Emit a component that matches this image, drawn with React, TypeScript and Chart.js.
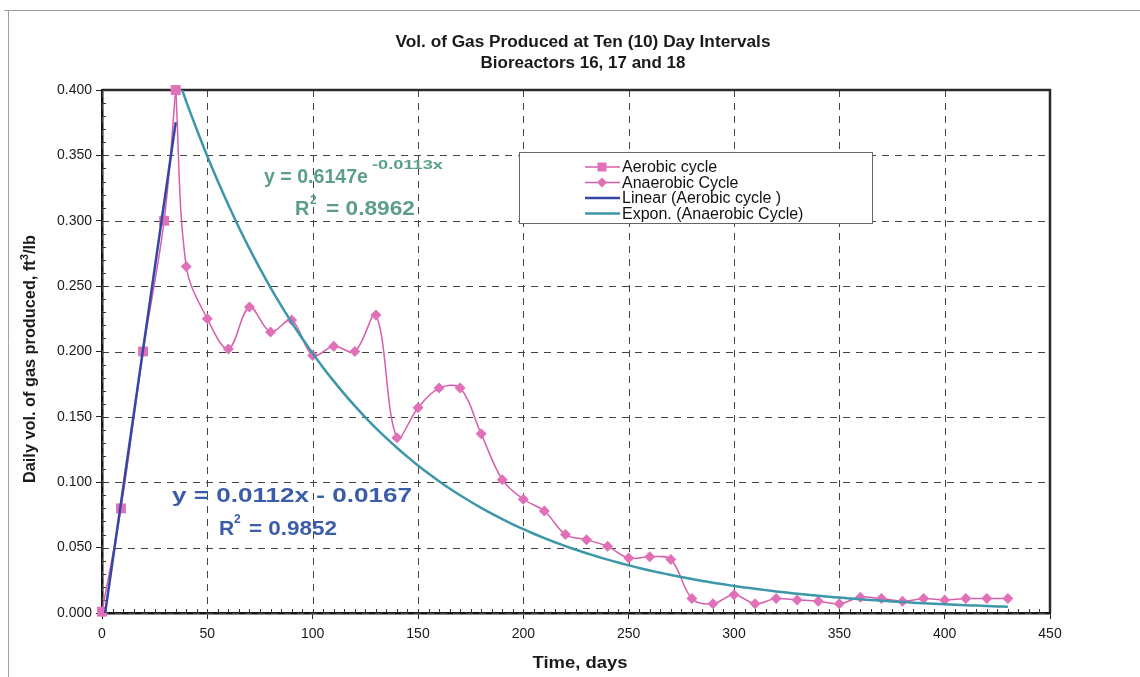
import React, { useEffect, useRef } from "react";
import { Chart, registerables } from "chart.js";

Chart.register(...registerables);

// ---------- data ----------
const titleLines = ["Vol. of Gas Produced at Ten (10) Day Intervals", "Bioreactors 16, 17 and 18"];
const xAxisTitle = "Time, days";
const yAxisTitleParts = ["Daily vol. of gas produced, ft", "3", "/lb"];

const xTickValues = [0, 50, 100, 150, 200, 250, 300, 350, 400, 450];
const yTickValues = [0, 0.05, 0.1, 0.15, 0.2, 0.25, 0.3, 0.35, 0.4];

const aerobicDays = [0, 9, 19.5, 29.5, 35];
const aerobicVol = [0.001, 0.08, 0.2, 0.3, 0.4];

const anaerobicDays = [
  35, 40, 50, 60, 70, 80, 90, 100, 110, 120, 130, 140, 150, 160, 170, 180, 190, 200, 210, 220,
  230, 240, 250, 260, 270, 280, 290, 300, 310, 320, 330, 340, 350, 360, 370, 380, 390, 400, 410, 420, 430,
];
const anaerobicVol = [
  0.4, 0.265, 0.225, 0.202, 0.234, 0.215, 0.224, 0.197, 0.204, 0.2, 0.228, 0.134, 0.157, 0.172, 0.172,
  0.137, 0.102, 0.087, 0.078, 0.06, 0.056, 0.051, 0.042, 0.043, 0.041, 0.011, 0.007, 0.014, 0.007,
  0.011, 0.01, 0.009, 0.007, 0.012, 0.011, 0.009, 0.011, 0.01, 0.011, 0.011, 0.011,
];

// trendline equations as printed on the chart
const linearSlope = 0.0112;
const linearIntercept = -0.0167;
const linearRange = [0, 35];
const linearEqText = "y = 0.0112x - 0.0167";
const linearR2Text = "0.9852";

const expCoef = 0.6147;
const expRate = -0.0113;
const expRange = [35, 430];
const expEqText = "y = 0.6147e";
const expEqExpText = "-0.0113x";
const expR2Text = "0.8962";

const legendLabels = ["Aerobic cycle", "Anaerobic Cycle", "Linear (Aerobic cycle )", "Expon. (Anaerobic Cycle)"];

// ---------- styles ----------
const FONT = "'Liberation Sans', Arial, Helvetica, sans-serif";
const PINK_LINE = "#d65fab";
const PINK_MARK = "#e070b8";
const BLUE = "#3547a2";
const TEAL = "#3c97a9";
const GREEN_TXT = "#5c9f86";
const BLUE_TXT = "#3b5da9";

function fitText(
  ctx: CanvasRenderingContext2D,
  text: string,
  x: number,
  y: number,
  font: string,
  color: string,
  width?: number,
  align: "left" | "center" = "left"
) {
  ctx.save();
  ctx.font = font;
  ctx.fillStyle = color;
  ctx.textBaseline = "alphabetic";
  ctx.textAlign = "left";
  const w = ctx.measureText(text).width;
  const sx = width ? width / w : 1;
  const left = align === "center" ? x - (w * sx) / 2 : x;
  ctx.translate(left, y);
  ctx.scale(sx, 1);
  ctx.fillText(text, 0, 0);
  ctx.restore();
}

function drawMarker(ctx: CanvasRenderingContext2D, kind: "square" | "diamond", x: number, y: number) {
  ctx.save();
  ctx.fillStyle = PINK_MARK;
  ctx.beginPath();
  if (kind === "square") {
    ctx.rect(x - 4.5, y - 4.5, 9, 9);
  } else {
    ctx.moveTo(x, y - 5);
    ctx.lineTo(x + 5, y);
    ctx.lineTo(x, y + 5);
    ctx.lineTo(x - 5, y);
    ctx.closePath();
  }
  ctx.fill();
  ctx.restore();
}

const decorPlugin = {
  id: "decor",
  beforeDraw(chart: any) {
    const ctx: CanvasRenderingContext2D = chart.ctx;
    ctx.save();
    ctx.fillStyle = "#ffffff";
    ctx.fillRect(0, 0, chart.width, chart.height);
    ctx.strokeStyle = "#a0a0a0";
    ctx.lineWidth = 1;
    ctx.beginPath();
    ctx.moveTo(4, 10.5);
    ctx.lineTo(chart.width, 10.5);
    ctx.moveTo(8.5, 10);
    ctx.lineTo(8.5, chart.height);
    ctx.stroke();
    ctx.restore();
  },
  beforeDatasetsDraw(chart: any) {
    const ctx: CanvasRenderingContext2D = chart.ctx;
    const { left, right, top, bottom } = chart.chartArea;
    const xs = chart.scales.x;
    const ys = chart.scales.y;
    ctx.save();
    // dashed grid
    ctx.strokeStyle = "#444";
    ctx.lineWidth = 1;
    ctx.setLineDash([7, 6]);
    ctx.beginPath();
    xTickValues.forEach((v) => {
      const px = Math.round(xs.getPixelForValue(v)) + 0.5;
      ctx.moveTo(px, top);
      ctx.lineTo(px, bottom);
    });
    yTickValues.forEach((v) => {
      const py = Math.round(ys.getPixelForValue(v)) + 0.5;
      ctx.moveTo(left, py);
      ctx.lineTo(right, py);
    });
    ctx.stroke();
    ctx.setLineDash([]);
    // minor ticks
    ctx.strokeStyle = "#333";
    ctx.beginPath();
    for (let v = 0; v <= 450; v += 5) {
      const px = Math.round(xs.getPixelForValue(v)) + 0.5;
      ctx.moveTo(px, bottom);
      ctx.lineTo(px, bottom - 4);
    }
    for (let k = 0; k <= 40; k++) {
      const py = Math.round(ys.getPixelForValue(k / 100)) + 0.5;
      ctx.moveTo(left, py);
      ctx.lineTo(left + 4, py);
    }
    ctx.stroke();
    // top + right frame of plot area
    ctx.strokeStyle = "#2b2b2b";
    ctx.lineWidth = 2.5;
    ctx.beginPath();
    ctx.moveTo(left, top);
    ctx.lineTo(right, top);
    ctx.lineTo(right, bottom);
    ctx.stroke();
    ctx.restore();
  },
  afterDraw(chart: any) {
    const ctx: CanvasRenderingContext2D = chart.ctx;
    // titles
    fitText(ctx, titleLines[0], 583, 47, `bold 16px ${FONT}`, "#1a1a1a", 375, "center");
    fitText(ctx, titleLines[1], 583, 68, `bold 16px ${FONT}`, "#1a1a1a", 205, "center");
    fitText(ctx, xAxisTitle, 580, 668, `bold 16px ${FONT}`, "#1a1a1a", 95, "center");

    // y axis title (rotated)
    ctx.save();
    ctx.translate(35, 359);
    ctx.rotate(-Math.PI / 2);
    ctx.fillStyle = "#1a1a1a";
    ctx.textBaseline = "alphabetic";
    ctx.font = `bold 16px ${FONT}`;
    const w0 = ctx.measureText(yAxisTitleParts[0]).width;
    const w2 = ctx.measureText(yAxisTitleParts[2]).width;
    ctx.font = `bold 11px ${FONT}`;
    const w1 = ctx.measureText(yAxisTitleParts[1]).width;
    const total = w0 + w1 + w2;
    const sx = 248 / total;
    ctx.scale(sx, 1);
    const start = -total / 2;
    ctx.font = `bold 16px ${FONT}`;
    ctx.fillText(yAxisTitleParts[0], start, 0);
    ctx.fillText(yAxisTitleParts[2], start + w0 + w1, 0);
    ctx.font = `bold 11px ${FONT}`;
    ctx.fillText(yAxisTitleParts[1], start + w0, -7);
    ctx.restore();

    // exponential equation (green)
    fitText(ctx, expEqText, 264, 183, `bold 20px ${FONT}`, GREEN_TXT, 104);
    fitText(ctx, expEqExpText, 372, 169, `bold 13px ${FONT}`, GREEN_TXT, 71);
    fitText(ctx, "R", 295, 215, `bold 20px ${FONT}`, GREEN_TXT);
    fitText(ctx, "2", 310, 204, `bold 12px ${FONT}`, GREEN_TXT);
    fitText(ctx, "= " + expR2Text, 326, 215, `bold 20px ${FONT}`, GREEN_TXT, 89);

    // linear equation (blue)
    fitText(ctx, linearEqText, 172, 502, `bold 21px ${FONT}`, BLUE_TXT, 240);
    fitText(ctx, "R", 219, 535, `bold 21px ${FONT}`, BLUE_TXT);
    fitText(ctx, "2", 234, 523, `bold 12px ${FONT}`, BLUE_TXT);
    fitText(ctx, "= " + linearR2Text, 249, 535, `bold 21px ${FONT}`, BLUE_TXT, 88);

    // legend
    ctx.save();
    ctx.fillStyle = "#ffffff";
    ctx.fillRect(519.5, 152.5, 353, 71);
    ctx.strokeStyle = "#666";
    ctx.lineWidth = 1;
    ctx.strokeRect(519.5, 152.5, 353, 71);
    const rows = [167, 182.5, 198, 213.5];
    const lineColors = [PINK_LINE, PINK_LINE, BLUE, TEAL];
    const lineWidths = [1.5, 1.5, 2.5, 2.5];
    rows.forEach((ry, i) => {
      ctx.strokeStyle = lineColors[i];
      ctx.lineWidth = lineWidths[i];
      ctx.beginPath();
      ctx.moveTo(585, ry);
      ctx.lineTo(620, ry);
      ctx.stroke();
      if (i === 0) drawMarker(ctx, "square", 602, ry);
      if (i === 1) drawMarker(ctx, "diamond", 602, ry);
      ctx.fillStyle = "#111";
      ctx.font = `16px ${FONT}`;
      ctx.textBaseline = "middle";
      ctx.textAlign = "left";
      ctx.fillText(legendLabels[i], 622, ry + 1);
    });
    ctx.restore();
  },
};

export default function App() {
  const ref = useRef<HTMLCanvasElement>(null);

  useEffect(() => {
    if (!ref.current) return;
    const aerobicData = aerobicDays.map((d, i) => ({ x: d, y: aerobicVol[i] }));
    const anaerobicData = anaerobicDays.map((d, i) => ({ x: d, y: anaerobicVol[i] }));
    const linearData = linearRange.map((x) => ({ x, y: linearSlope * x + linearIntercept }));
    const expData: { x: number; y: number }[] = [];
    for (let x = expRange[0]; x <= expRange[1]; x += 5) {
      expData.push({ x, y: expCoef * Math.exp(expRate * x) });
    }

    const chart = new Chart(ref.current, {
      type: "line",
      data: {
        datasets: [
          {
            label: legendLabels[0],
            data: aerobicData,
            borderColor: PINK_LINE,
            backgroundColor: PINK_MARK,
            pointBackgroundColor: PINK_MARK,
            pointBorderColor: PINK_MARK,
            pointStyle: "rect",
            pointRadius: 7,
            pointBorderWidth: 0,
            borderWidth: 1.5,
            tension: 0.35,
            clip: false,
            order: 1,
          } as any,
          {
            label: legendLabels[1],
            data: anaerobicData,
            borderColor: PINK_LINE,
            backgroundColor: PINK_MARK,
            pointBackgroundColor: PINK_MARK,
            pointBorderColor: PINK_MARK,
            pointStyle: "rectRot",
            pointRadius: 5.5,
            pointBorderWidth: 0,
            borderWidth: 1.5,
            tension: 0.35,
            clip: false,
            order: 1,
          } as any,
          {
            label: legendLabels[2],
            data: linearData,
            borderColor: BLUE,
            borderWidth: 2.5,
            pointRadius: 0,
            tension: 0,
            order: -1,
          } as any,
          {
            label: legendLabels[3],
            data: expData,
            borderColor: TEAL,
            borderWidth: 2.5,
            pointRadius: 0,
            tension: 0.3,
            order: -1,
          } as any,
        ],
      },
      options: {
        responsive: false,
        animation: false,
        devicePixelRatio: 1,
        layout: { padding: { left: 0, top: 90, right: 90, bottom: 0 } },
        plugins: {
          legend: { display: false },
          title: { display: false },
          tooltip: { enabled: false },
        },
        scales: {
          x: {
            type: "linear",
            min: 0,
            max: 450,
            afterBuildTicks: (s: any) => {
              s.ticks = xTickValues.map((v) => ({ value: v }));
            },
            afterFit: (s: any) => {
              s.height = 64;
            },
            ticks: {
              font: { family: FONT, size: 14 },
              color: "#1a1a1a",
              padding: 7,
              maxRotation: 0,
              autoSkip: false,
              callback: (v: any) => String(v),
            },
            grid: { drawOnChartArea: false, drawTicks: true, tickLength: 6, tickColor: "#222", tickWidth: 1 },
            border: { display: true, color: "#151515", width: 2.5 },
          },
          y: {
            type: "linear",
            min: 0,
            max: 0.4,
            afterBuildTicks: (s: any) => {
              s.ticks = yTickValues.map((v) => ({ value: v }));
            },
            afterFit: (s: any) => {
              s.width = 102;
            },
            ticks: {
              font: { family: FONT, size: 14 },
              color: "#1a1a1a",
              padding: 4,
              autoSkip: false,
              callback: (v: any) => Number(v).toFixed(3),
            },
            grid: { drawOnChartArea: false, drawTicks: true, tickLength: 6, tickColor: "#222", tickWidth: 1 },
            border: { display: true, color: "#151515", width: 2.5 },
          },
        },
      } as any,
      plugins: [decorPlugin],
    });
    return () => chart.destroy();
  }, []);

  return (
    <div style={{ position: "absolute", left: 0, top: 0, width: 1140, height: 677, background: "#fff" }}>
      <canvas ref={ref} width={1140} height={677} style={{ display: "block", width: 1140, height: 677 }} />
    </div>
  );
}
